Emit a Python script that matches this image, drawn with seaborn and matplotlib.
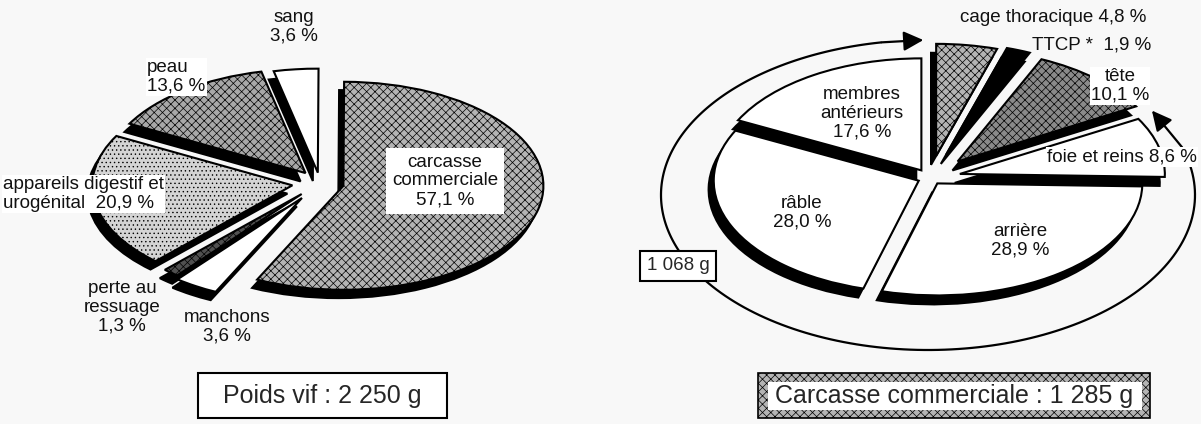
import numpy as np
import matplotlib
matplotlib.use("Agg")
import matplotlib.pyplot as plt
from matplotlib.patches import Rectangle
import seaborn as sns

# poids vif (left pie), first slice = carcasse
vif_names = ["carcasse commerciale", "sang", "peau", "appareils digestif et urogénital",
             "perte au ressuage", "manchons"]
vif_pct = [57.1, 3.6, 13.6, 20.9, 1.3, 3.6]
vif_text = ["carcasse\ncommerciale\n57,1 %", "sang\n3,6 %", "peau\n13,6 %",
            "appareils digestif et\nurogénital  20,9 %", "perte au\nressuage\n1,3 %",
            "manchons\n3,6 %"]

# carcasse commerciale (right pie), clockwise from the top
carc_names = ["cage thoracique", "TTCP", "tête", "foie et reins", "arrière", "râble",
              "membres antérieurs"]
carc_pct = [4.8, 1.9, 10.1, 8.6, 28.9, 28.0, 17.6]
carc_text = ["cage thoracique 4,8 %", "TTCP *  1,9 %", "tête\n10,1 %", "foie et reins 8,6 %",
             "arrière\n28,9 %", "râble\n28,0 %", "membres\nantérieurs\n17,6 %"]

poids_vif = "Poids vif : 2 250 g"
poids_carc = "Carcasse commerciale : 1 285 g"
poids_reste = "1 068 g"

sns.set_theme(style="white")
plt.rcParams["font.family"] = ["Liberation Sans", "DejaVu Sans"]
plt.rcParams["hatch.linewidth"] = 0.5

W, H = 1201, 424
fig = plt.figure(figsize=(W / 100, H / 100), dpi=100)
fig.patch.set_facecolor("#f8f8f8")
FS = 13.5


def px(x, y):
    # pixel position -> figure fraction
    return x / W, 1 - y / H


def squash(ax, x0, x1, cx, cy, sx, sy):
    # stretch the unit pie into an ellipse of sx by sy pixels centred at (cx, cy)
    ax.set_aspect("auto")
    ax.set_xlim((x0 - cx) / sx, (x1 - cx) / sx)
    ax.set_ylim((cy - H) / sy, cy / sy)
    ax.axis("off")


def draw_pie(ax, values, explode, fills, hatches, start, counterclock):
    # black copy shifted down-left as the shadow
    ax.pie(values, explode=explode, startangle=start, counterclock=counterclock,
           center=(-0.025, -0.08), colors=["black"] * len(values),
           wedgeprops=dict(edgecolor="black", linewidth=1.5))
    wedges, _ = ax.pie(values, explode=explode, startangle=start, counterclock=counterclock,
                       colors=fills, wedgeprops=dict(edgecolor="black", linewidth=1.5))
    for w, h in zip(wedges, hatches):
        if h:
            w.set_hatch(h)
    return wedges


# ---- left pie
ax1 = fig.add_axes([0, 0, 600 / W, 1])
draw_pie(ax1, vif_pct,
         explode=[0.12, 0.1, 0.12, 0.14, 0.14, 0.17],
         fills=["#b4b4b4", "white", "#a8a8a8", "#d4d4d4", "#505050", "white"],
         hatches=["xxxx", None, "xxxx", "....", "xxxx", None],
         start=90 - vif_pct[0] * 3.6, counterclock=True)
squash(ax1, 0, 600, 320, 183, 200, 104)

lab = dict(fontsize=FS, linespacing=1.15, color="#111111")
fig.text(*px(294, 27), vif_text[1], ha="center", va="center", **lab)
fig.text(*px(147, 77), vif_text[2], ha="left", va="center",
         bbox=dict(facecolor="white", edgecolor="none", pad=1), **lab)
fig.text(*px(445, 181), vif_text[0], ha="center", va="center",
         bbox=dict(facecolor="white", edgecolor="none", pad=4), **lab)
fig.text(*px(3, 194), vif_text[3], ha="left", va="center",
         bbox=dict(facecolor="white", edgecolor="none", pad=1), **lab)
fig.text(*px(122, 307), vif_text[4], ha="center", va="center", **lab)
fig.text(*px(227, 327), vif_text[5], ha="center", va="center", **lab)

# ---- right pie
ax2 = fig.add_axes([600 / W, 0, 601 / W, 1])
draw_pie(ax2, carc_pct,
         explode=[0.2, 0.22, 0.2, 0.15, 0.06, 0.06, 0.08],
         fills=["#b4b4b4", "black", "#8a8a8a", "white", "white", "white", "white"],
         hatches=["xxxx", None, "xxxx", None, None, None, None],
         start=90, counterclock=False)
squash(ax2, 600, 1201, 930, 178, 205, 112)

# arrows running round the carcass pie
ecx, ecy, ea, eb = (928 - 930) / 205, (178 - 195) / 112, 267 / 205, 155 / 112


def ell(t):
    t = np.radians(t)
    return ecx + ea * np.cos(t), ecy + eb * np.sin(t)


for t0, t1, t_tip in [(203, 100, 91), (203, 378, 33)]:
    xs, ys = ell(np.linspace(t0, t1, 120))
    ax2.plot(xs, ys, color="black", lw=1.6, solid_capstyle="butt", clip_on=False)
    ax2.annotate("", xy=ell(t_tip), xytext=ell(t1),
                 arrowprops=dict(arrowstyle="-|>", mutation_scale=30, lw=1.6,
                                 color="black", shrinkA=0, shrinkB=0))

fig.text(*px(960, 18), carc_text[0], ha="left", va="center", **lab)
fig.text(*px(1032, 45), carc_text[1], ha="left", va="center", **lab)
fig.text(*px(1120, 86), carc_text[2], ha="center", va="center",
         bbox=dict(facecolor="white", edgecolor="none", pad=0.5), **lab)
fig.text(*px(1047, 157), carc_text[3], ha="left", va="center",
         bbox=dict(facecolor="white", edgecolor="none", pad=1), **lab)
fig.text(*px(1020, 241), carc_text[4], ha="center", va="center", **lab)
fig.text(*px(802, 213), carc_text[5], ha="center", va="center", **lab)
fig.text(*px(862, 113), carc_text[6], ha="center", va="center", **lab)
fig.text(*px(678, 266), poids_reste, ha="center", va="center", fontsize=FS,
         bbox=dict(boxstyle="square,pad=0.35", facecolor="white", edgecolor="black", lw=1.5))

# ---- weight boxes at the bottom
x0, y0 = px(198, 418)
fig.add_artist(Rectangle((x0, y0), 249 / W, 45 / H, transform=fig.transFigure,
                         facecolor="white", edgecolor="black", lw=1.5))
fig.text(*px(322, 396), poids_vif, ha="center", va="center", fontsize=18)

x0, y0 = px(758, 418)
fig.add_artist(Rectangle((x0, y0), 392 / W, 45 / H, transform=fig.transFigure,
                         facecolor="#b4b4b4", edgecolor="black", lw=1.2, hatch="xxxx"))
x0, y0 = px(768, 410)
fig.add_artist(Rectangle((x0, y0), 374 / W, 28 / H, transform=fig.transFigure,
                         facecolor="white", edgecolor="none"))
fig.text(*px(954, 396), poids_carc, ha="center", va="center", fontsize=18)

fig.savefig("out.png", dpi=100, facecolor=fig.get_facecolor())
